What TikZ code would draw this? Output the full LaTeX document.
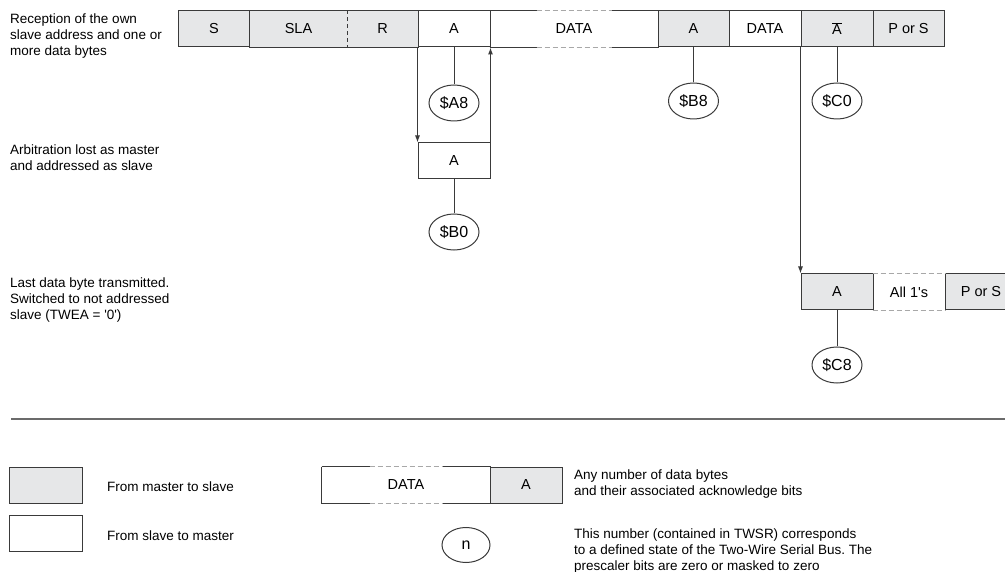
\documentclass[tikz,border=0pt]{standalone}
\usepackage{fontspec}
\newfontfamily\labfont{Liberation Sans}
\usetikzlibrary{shapes.geometric,arrows.meta}

\definecolor{lightfill}{HTML}{E6E7E8}
\definecolor{edgegray}{HTML}{3A3A3A}
\definecolor{dashgray}{HTML}{A8A8A8}
\definecolor{rulegray}{HTML}{6B6B6B}

% top and bottom edge of a cell that stands for any number of bytes
\newcommand{\openedges}[2]{%
  \draw[edgegray, line width=1pt] (#1.north west) -- ([xshift=#2]#1.north west)
    ([xshift=-#2]#1.north east) -- (#1.north east)
    (#1.south west) -- ([xshift=#2]#1.south west)
    ([xshift=-#2]#1.south east) -- (#1.south east);
  \draw[dashgray, line width=1pt, dash pattern=on 5pt off 3pt]
    ([xshift=#2]#1.north west) -- ([xshift=-#2]#1.north east)
    ([xshift=#2]#1.south west) -- ([xshift=-#2]#1.south east);
}

\begin{document}
\begin{tikzpicture}[x=1pt, y=-1pt,
    mcell/.style={rectangle, fill=lightfill, draw=edgegray, line width=1pt,
      minimum width=72pt, minimum height=36pt, inner sep=0pt,
      font=\labfont\fontsize{14.5}{17}\selectfont},
    scell/.style={mcell, fill=white},
    opencell/.style={mcell, draw=none, fill=none},
    state/.style={ellipse, draw=edgegray, line width=1pt, minimum width=50pt,
      minimum height=36pt, inner sep=0pt, font=\labfont\fontsize{16}{18}\selectfont},
    note/.style={align=left, inner sep=0pt, font=\labfont\fontsize{13.5}{16}\selectfont},
    link/.style={draw=edgegray, line width=1pt},
    flow/.style={link, -{Latex[length=7pt, width=5pt]}}]
  \useasboundingbox (0,0) rectangle (1005,572);

  % Reception of own address, then data bytes
  \node[note, anchor=north west] (own) at (10,14) {Reception of the own\\slave address and one or\\more data bytes};
  \node[mcell] (s) at (214,29) {S};
  \node[mcell, draw=none, minimum width=97pt] (sla) at (298.5,29) {SLA};
  \node[mcell, draw=none, minimum width=71pt] (rw) at (382.5,29) {R};
  \draw[link] (sla.north west) rectangle (rw.south east);
  \draw[link, dash pattern=on 4pt off 3pt] (sla.north east) -- (sla.south east);
  \node[opencell, minimum width=168pt] (data) at (574,29) {DATA};
  \node[scell] (ownA) at (454,29) {A};
  \node[mcell, minimum width=71pt] (ackA) at (693.5,29) {A};
  \node[scell] (lastdata) at (765,29) {DATA};
  \node[mcell] (nack) at (837,29) {$\overline{\mbox{A}}$};
  \node[mcell, minimum width=71pt] (stop) at (908.5,29) {P or S};
  \openedges{data}{47pt}

  \node[state] (sA8) at (454,103) {\$A8};
  \node[state] (sB8) at (693.5,101) {\$B8};
  \node[state] (sC0) at (837,101) {\$C0};
  \draw[link] (ownA.south) -- (sA8.north);
  \draw[link] (ackA.south) -- (sB8.north);
  \draw[link] (nack.south) -- (sC0.north);

  % Arbitration lost
  \node[note, anchor=north west] (arb) at (10,145) {Arbitration lost as master\\and addressed as slave};
  \node[scell] (arbA) at (454,161) {A};
  \node[state] (sB0) at (454,232) {\$B0};
  \draw[link] (arbA.south) -- (sB0.north);
  \draw[flow] (ownA.south west) -- (arbA.north west);
  \draw[flow] (arbA.north east) -- (ownA.south east);

  % Last data byte
  \node[note, anchor=north west] (last) at (10,278) {Last data byte transmitted.\\Switched to not addressed\\slave (TWEA = '0')};
  \node[opencell] (ones) at (909,292) {All 1's};
  \node[mcell] (lastA) at (837,292) {A};
  \node[mcell] (stop2) at (981,292) {P or S};
  \openedges{ones}{0pt}
  \node[state] (sC8) at (837,365) {\$C8};
  \draw[link] (lastA.south) -- (sC8.north);
  \draw[flow] (nack.south west) -- (lastA.north west);

  % Legend
  \draw[rulegray, line width=1.6pt] (11,419) -- (1005,419);
  \node[mcell, minimum width=73pt] (keyM) at (45.5,485) {};
  \node[scell, minimum width=73pt] (keyS) at (45.5,533.5) {};
  \node[note, anchor=base west] (keyMtxt) at (107,491) {From master to slave};
  \node[note, anchor=base west] (keyStxt) at (107,540) {From slave to master};
  \node[opencell, minimum width=168pt] (keyD) at (406,485) {DATA};
  \node[mcell] (keyA) at (526,485) {A};
  \draw[link] (keyD.north west) -- (keyD.south west);
  \openedges{keyD}{48pt}
  \node[state, minimum width=48pt, minimum height=35pt] (keyN) at (466,545) {n};
  \node[note, anchor=north west] (keyDtxt) at (574,470) {Any number of data bytes\\and their associated acknowledge bits};
  \node[note, anchor=north west, font=\labfont\fontsize{13.5}{15.6}\selectfont] (keyNtxt) at (574,529) {This number (contained in TWSR) corresponds\\to a defined state of the Two-Wire Serial Bus.\ The\\prescaler bits are zero or masked to zero};
\end{tikzpicture}
\end{document}
